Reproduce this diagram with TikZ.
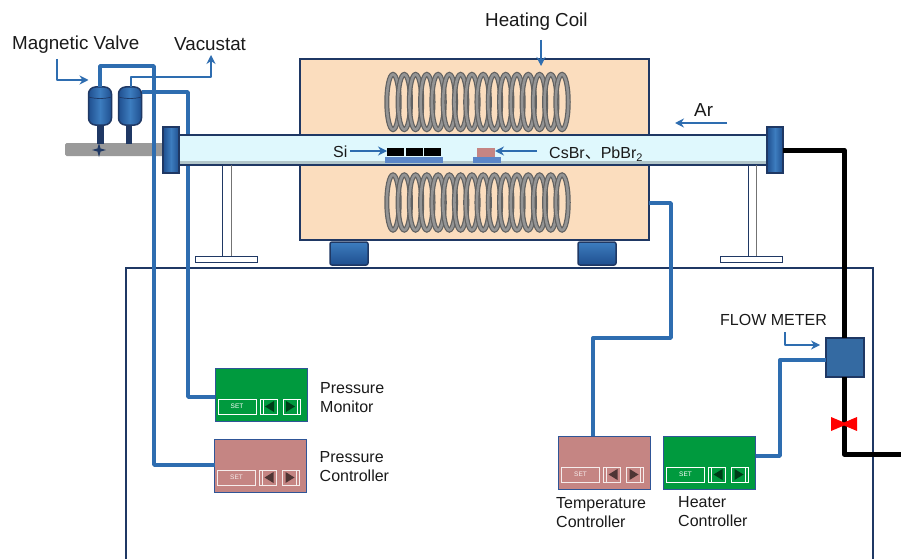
\documentclass[tikz,border=0pt]{standalone}
\usepackage{fontspec}
\setmainfont{Liberation Sans}
\newfontfamily\cjkf{Noto Sans CJK SC}
\usetikzlibrary{arrows.meta,shapes.geometric}
\definecolor{navy}{HTML}{1F3864}
\definecolor{wire}{HTML}{2E6DB0}
\definecolor{peach}{HTML}{FBDDBE}
\definecolor{tubec}{HTML}{DFF8FD}
\definecolor{okgreen}{HTML}{009A3E}
\definecolor{rosec}{HTML}{C58583}
\definecolor{panelb}{HTML}{2F5597}
\definecolor{holder}{HTML}{5B86C8}
\definecolor{railc}{HTML}{9A9A9A}
\definecolor{txt}{HTML}{1A1A1A}
\definecolor{bodyd}{HTML}{1F4F8F}
\definecolor{bodyl}{HTML}{3D7DBF}
\tikzset{
 base/.style={anchor=north west,inner sep=0pt,outer sep=0pt},
 wireline/.style={draw=wire,line width=3.4pt,line join=round},
 thinarrow/.style={draw=wire,line width=1.3pt,line join=round,-{Stealth[length=9pt,width=9pt]}},
 gasline/.style={draw=black,line width=5pt,line join=round},
 lbl/.style={inner sep=0pt,text=txt,font=\fontsize{16}{19}\selectfont,align=left},
 lblbig/.style={inner sep=0pt,text=txt,font=\fontsize{18.8}{22}\selectfont},
 bluebody/.style={base,draw=navy,line width=1.5pt,left color=bodyd,right color=bodyd,middle color=bodyl},
 footbody/.style={base,draw=navy,line width=1.5pt,top color=bodyl,bottom color=bodyd},
 support/.style={draw=navy,line width=1pt},
 panelbox/.style={base,draw=panelb,line width=1pt,minimum width=92pt,minimum height=53pt},
 setbox/.style={base,draw=#1,line width=1pt,minimum width=38pt,minimum height=15pt,text=#1,font=\fontsize{6.5}{7}\selectfont},
 coilouter/.style={draw=black!62,line width=5pt},
 coilinner/.style={draw=black!42,line width=2.6pt},
}
\newcommand{\panelctl}[5]{% name, x, y, fill, light
 \node[panelbox,fill=#4] (#1) at (#2,#3) {};
 \node[setbox=#5] (#1set) at (#2+3,#3+31) {SET};
 \draw[#5,line width=1pt] (#2+45,#3+31) rectangle (#2+62,#3+46);
 \draw[#5,line width=1pt] (#2+48,#3+31) -- (#2+48,#3+46);
 \fill[#4!40!black] (#2+50,#3+38.5) -- (#2+59,#3+33) -- (#2+59,#3+44) -- cycle;
 \draw[#5,line width=1pt] (#2+68,#3+31) rectangle (#2+85,#3+46);
 \draw[#5,line width=1pt] (#2+82,#3+31) -- (#2+82,#3+46);
 \fill[#4!40!black] (#2+80,#3+38.5) -- (#2+71,#3+33) -- (#2+71,#3+44) -- cycle;
}
\newcommand{\coilrow}[1]{%
 \foreach \i in {0,...,15}{
  \draw[coilouter] (393+\i*11.27,#1) ellipse (6.2pt and 27.6pt);
  \draw[coilinner] (393+\i*11.27,#1) ellipse (6.2pt and 27.6pt);
 }
}
\begin{document}
\begin{tikzpicture}[x=1pt,y=-1pt]
\useasboundingbox (0,0) rectangle (901,559);
\fill[white] (0,0) rectangle (901,559);
% cabinet frame
\coordinate (frBL) at (126,559);
\coordinate (frTL) at (126,268);
\coordinate (frTR) at (873,268);
\coordinate (frBR) at (873,559);
\draw[draw=navy,line width=1.5pt] (frBL) -- (frTL) -- (frTR) -- (frBR);
% furnace
\node[base,draw=navy,line width=2.2pt,fill=peach,minimum width=349pt,minimum height=76pt] (furnaceT) at (300,59) {};
\node[base,draw=navy,line width=2.2pt,fill=peach,minimum width=349pt,minimum height=76pt] (furnaceB) at (300,164) {};
\coilrow{102}
\coilrow{202.5}
% rail
\node[base,fill=railc,minimum width=100pt,minimum height=13pt,rounded corners=1.5pt] (rail) at (65,143) {};
% valves
\node[base,fill=navy,minimum width=7pt,minimum height=20pt] (stemA) at (96.5,124) {};
\node[base,fill=navy,minimum width=6pt,minimum height=20pt] (stemB) at (126,124) {};
\node[bluebody,rounded corners=7pt,minimum width=23pt,minimum height=38pt] (valveA) at (88.5,87) {};
\node[bluebody,rounded corners=7pt,minimum width=23pt,minimum height=38pt] (valveB) at (118.5,87) {};
\coordinate (vl) at (0,97);
\draw[navy,line width=.7pt] (valveA.west |- vl) to[bend right=14] (valveA.east |- vl);
\draw[navy,line width=.7pt] (valveB.west |- vl) to[bend right=14] (valveB.east |- vl);
\node[star,star points=4,star point ratio=3.2,fill=navy,minimum size=14pt,inner sep=0pt] (cross) at (99,150) {};
% panels
\panelctl{monitor}{215}{368}{okgreen}{white}
\panelctl{pctl}{214.5}{439}{rosec}{white!85!rosec}
\panelctl{tctl}{558.5}{436}{rosec}{white!85!rosec}
\panelctl{hctl}{663.5}{436}{okgreen}{white}
% wires behind tube
\coordinate (a1) at (100,66);
\coordinate (a2) at (154,66);
\coordinate (a3) at (154,465);
\draw[wireline] (valveA.north) -- (a1) -- (a2) -- (a3) -- (pctl.west |- a3);
\coordinate (b1) at (188,92);
\coordinate (b2) at (188,397);
\draw[wireline] (valveB.east |- b1) -- (b1) -- (b2) -- (monitor.west |- b2);
% tube
\node[base,draw=navy,line width=2.2pt,fill=tubec,minimum width=590pt,minimum height=30pt] (tube) at (178,135) {};
\fill[tubec!80!black] (178.9,160.5) rectangle (767,163.8);
% supports
\node[base,draw=navy,line width=1pt,fill=white,minimum width=62pt,minimum height=6pt] (footL) at (195,256) {};
\node[base,draw=navy,line width=1pt,fill=white,minimum width=62pt,minimum height=6pt] (footR) at (720,256) {};
\coordinate (sl1) at (222,256);
\coordinate (sl2) at (231,256);
\coordinate (sr1) at (748,256);
\coordinate (sr2) at (756,256);
\draw[support] (sl1 |- tube.south) -- (sl1);
\draw[support,draw=black!55] (sl2 |- tube.south) -- (sl2);
\draw[support] (sr1 |- tube.south) -- (sr1);
\draw[support,draw=black!55] (sr2 |- tube.south) -- (sr2);
% flanges
\node[bluebody,minimum width=16pt,minimum height=46pt] (flangeL) at (163,127) {};
\node[bluebody,minimum width=16pt,minimum height=46pt] (flangeR) at (767,127) {};
% furnace feet
\node[footbody,minimum width=38pt,minimum height=23pt,rounded corners=2pt] (feetA) at (330,242) {};
\node[footbody,minimum width=38pt,minimum height=23pt,rounded corners=2pt] (feetB) at (578,242) {};
% gas line
\node[base,draw=navy,line width=2.2pt,fill=bodyl!85!black,minimum width=38pt,minimum height=39pt] (flow) at (826,338) {};
\coordinate (g1) at (844,150);
\coordinate (g2) at (844,454);
\coordinate (g3) at (901,454);
\draw[gasline] (flangeR.east |- g1) -- (g1) -- (flow.north -| g1);
\draw[gasline] (flow.south -| g1) -- (g2) -- (g3);
\fill[red] (831,417) -- (844,422.5) -- (857,417) -- (857,431) -- (844,425.5) -- (831,431) -- cycle;
% temp/heater wires
\coordinate (t1) at (593,338);
\coordinate (t2) at (671,338);
\coordinate (t3) at (671,203);
\draw[wireline] (tctl.north -| t1) -- (t1) -- (t2) -- (t3) -- (furnaceB.east |- t3);
\coordinate (h1) at (780,456);
\coordinate (h2) at (780,360);
\draw[wireline] (hctl.east |- h1) -- (h1) -- (h2) -- (flow.west |- h2);
% samples
\node[base,fill=holder,minimum width=58pt,minimum height=6pt] (boatA) at (385,157) {};
\node[base,fill=black,minimum width=17pt,minimum height=8pt] (s1) at (387,148) {};
\node[base,fill=black,minimum width=17pt,minimum height=8pt] (s2) at (405.5,148) {};
\node[base,fill=black,minimum width=17pt,minimum height=8pt] (s3) at (424,148) {};
\node[base,fill=holder,minimum width=28pt,minimum height=6pt] (boatB) at (473,157) {};
\node[base,fill=rosec,minimum width=18pt,minimum height=9pt] (s4) at (477,148) {};
% labels
\node[lblbig,anchor=west] (lmv) at (12,44.5) {Magnetic Valve};
\node[lblbig,anchor=west] (lvac) at (174,44) {Vacustat};
\node[lblbig,anchor=west] (lhc) at (485,22) {Heating Coil};
\node[lblbig,anchor=west] (lar) at (694,110) {Ar};
\node[lbl,anchor=west] (lsi) at (333,152) {Si};
\node[lbl,anchor=west] (lcs) at (549,154) {CsBr{\cjkf 、}PbBr\raisebox{-3pt}{\fontsize{11}{11}\selectfont 2}};
\node[lbl,anchor=west] (lfm) at (720,320) {FLOW METER};
\node[lbl,anchor=north west] (lpm) at (320,382) {Pressure\\Monitor};
\node[lbl,anchor=north west] (lpc) at (319.5,451) {Pressure\\Controller};
\node[lbl,anchor=north west] (ltc) at (556,497) {Temperature\\Controller};
\node[lbl,anchor=north west] (lhtr) at (678,496) {Heater\\Controller};
% thin arrows
\coordinate (m0) at (57,59);
\coordinate (m1) at (57,80);
\draw[thinarrow] (m0) -- (m1) -- (valveA.west |- m1);
\coordinate (v1) at (131,77);
\coordinate (v2) at (211,77);
\coordinate (v3) at (211,55);
\draw[thinarrow] (valveB.north -| v1) -- (v1) -- (v2) -- (v3);
\coordinate (c0) at (541,40);
\coordinate (c1) at (541,66);
\draw[thinarrow] (c0) -- (c1);
\coordinate (si0) at (350,151);
\draw[thinarrow] (si0) -- (s1.west |- si0);
\coordinate (cs0) at (537,151);
\draw[thinarrow] (cs0) -- (s4.east |- cs0);
\coordinate (ar0) at (727,123);
\coordinate (ar1) at (675,123);
\draw[thinarrow] (ar0) -- (ar1);
\coordinate (f0) at (785,332);
\coordinate (f1) at (785,345);
\coordinate (f2) at (820,345);
\draw[thinarrow] (f0) -- (f1) -- (f2);
\end{tikzpicture}
\end{document}
